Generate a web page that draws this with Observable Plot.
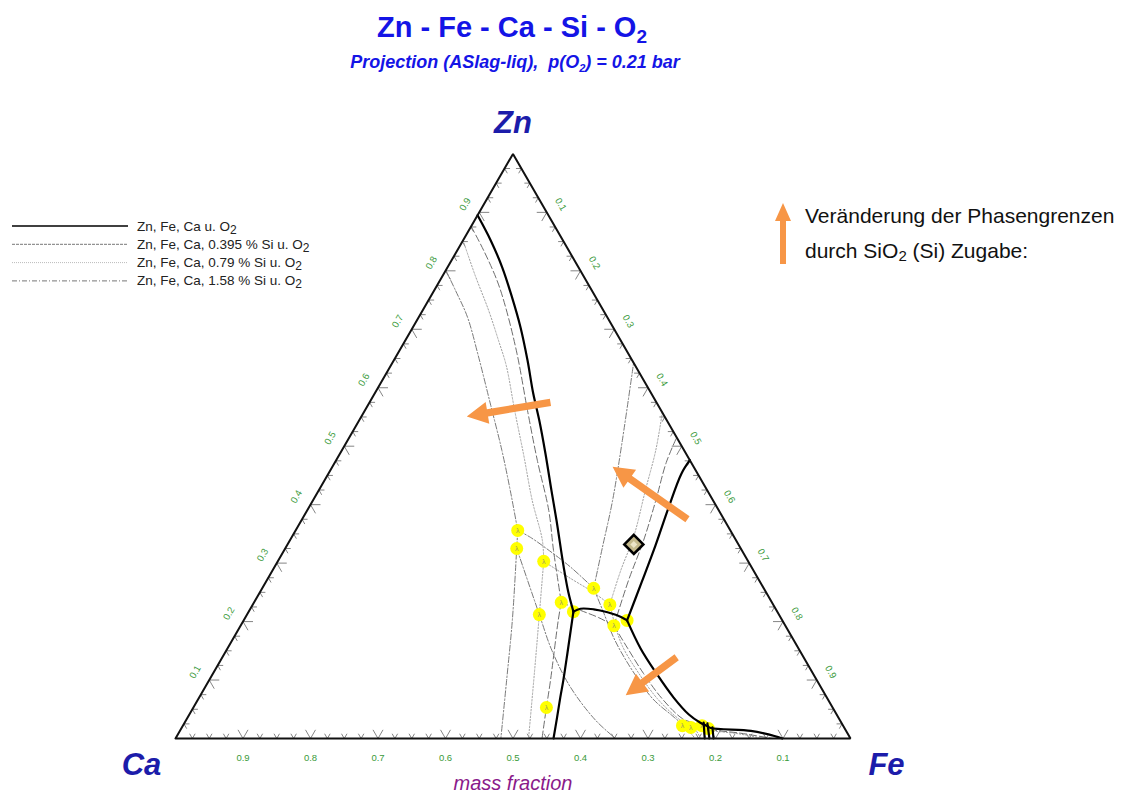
<!DOCTYPE html>
<html>
<head>
<meta charset="utf-8">
<script src="https://cdn.jsdelivr.net/npm/d3@7"></script>
<script src="https://cdn.jsdelivr.net/npm/@observablehq/plot@0.6"></script>
<style>
  body { margin: 0; background: #fff; }
  #wrap { position: relative; width: 1134px; height: 794px; font-family: "Liberation Sans", Arial, sans-serif; }
  #wrap > svg { position: absolute; left: 0; top: 0; }
</style>
</head>
<body>
<div id="wrap"></div>
<script>
// ---- Phase boundaries, as [Zn, Fe] mass fractions (Ca = 1 - Zn - Fe) ----
// Zn, Fe, Ca u. O2
const base_left     = [[0.895,0.000],[0.852,0.041],[0.806,0.081],[0.755,0.121],[0.704,0.159],[0.647,0.198],[0.590,0.235],[0.544,0.267],[0.488,0.304],[0.424,0.345],[0.373,0.378],[0.294,0.428],[0.250,0.457],[0.217,0.481]];
const base_leftLow  = [[0.217,0.481],[0.185,0.493],[0.145,0.508],[0.099,0.525],[0.070,0.535],[0.034,0.548],[0.000,0.560]];
const base_mid      = [[0.217,0.481],[0.222,0.489],[0.221,0.509],[0.216,0.532],[0.208,0.556],[0.202,0.568]];
const base_right    = [[0.202,0.568],[0.267,0.557],[0.330,0.546],[0.395,0.533],[0.453,0.523],[0.476,0.524]];
const base_lowRight = [[0.202,0.568],[0.154,0.612],[0.113,0.655],[0.070,0.703],[0.041,0.740],[0.027,0.764],[0.021,0.778]];
const base_tail     = [[0.021,0.778],[0.018,0.784],[0.013,0.846],[0.007,0.875],[0.000,0.899]];
const base_stub1    = [[0.027,0.769],[0.000,0.784]];
const base_stub2    = [[0.026,0.775],[0.000,0.791]];
const base_stub3    = [[0.019,0.786],[0.000,0.797]];

// Zn, Fe, Ca, 0.395 % Si u. O2
const si395_left     = [[0.876,0.000],[0.835,0.039],[0.783,0.085],[0.738,0.120],[0.658,0.177],[0.561,0.241],[0.476,0.298],[0.390,0.358],[0.322,0.399],[0.233,0.455]];
const si395_leftLow  = [[0.233,0.455],[0.202,0.466],[0.099,0.506],[0.053,0.523],[0.000,0.543]];
const si395_mid      = [[0.233,0.455],[0.219,0.491],[0.207,0.523],[0.193,0.553]];
const si395_right    = [[0.193,0.553],[0.270,0.536],[0.339,0.524],[0.407,0.508],[0.472,0.491],[0.515,0.485]];
const si395_lowRight = [[0.193,0.553],[0.154,0.593],[0.111,0.638],[0.068,0.687],[0.034,0.734],[0.021,0.767],[0.000,0.785]];
const si395_tail     = [[0.021,0.767],[0.015,0.788],[0.009,0.833],[0.000,0.884]];

// Zn, Fe, Ca, 0.79 % Si u. O2
const si79_left     = [[0.852,0.000],[0.792,0.048],[0.732,0.098],[0.681,0.138],[0.638,0.171],[0.561,0.222],[0.484,0.274],[0.407,0.325],[0.339,0.374],[0.303,0.394]];
const si79_leftLow  = [[0.303,0.394],[0.212,0.433],[0.116,0.474],[0.000,0.523]];
const si79_mid      = [[0.303,0.394],[0.274,0.448],[0.250,0.494],[0.229,0.529]];
const si79_right    = [[0.229,0.529],[0.287,0.516],[0.346,0.506],[0.424,0.484],[0.493,0.465],[0.556,0.443]];
const si79_lowRight = [[0.229,0.529],[0.193,0.555],[0.157,0.584],[0.113,0.629],[0.068,0.680],[0.034,0.728],[0.019,0.758],[0.000,0.778]];
const si79_tail     = [[0.019,0.758],[0.014,0.782],[0.008,0.830],[0.000,0.870]];

// Zn, Fe, Ca, 1.58 % Si u. O2
const si158_left     = [[0.801,0.000],[0.766,0.032],[0.721,0.072],[0.655,0.121],[0.570,0.182],[0.493,0.237],[0.424,0.284],[0.356,0.329]];
const si158_leftLow  = [[0.356,0.329],[0.325,0.343],[0.202,0.398],[0.099,0.441],[0.000,0.482]];
const si158_mid      = [[0.356,0.329],[0.344,0.354],[0.316,0.402],[0.293,0.439],[0.257,0.491]];
const si158_right    = [[0.257,0.491],[0.327,0.469],[0.407,0.444],[0.510,0.407],[0.641,0.358]];
const si158_lowRight = [[0.257,0.491],[0.216,0.526],[0.168,0.567],[0.116,0.619],[0.068,0.673],[0.038,0.718],[0.022,0.742],[0.000,0.770]];
const si158_branch   = [[0.325,0.343],[0.212,0.433],[0.151,0.482],[0.088,0.541],[0.031,0.607],[0.000,0.652]];

// Invariant points (junctions of boundaries)
const junctions = [[0.356,0.329],[0.325,0.343],[0.303,0.394],[0.257,0.491],[0.229,0.529],[0.233,0.455],[0.217,0.481],[0.212,0.433],[0.193,0.553],[0.202,0.568],[0.053,0.523],[0.022,0.740],[0.019,0.754],[0.022,0.769],[0.017,0.781]];

// Sample composition
const samplePoint = [[0.332,0.513]];

// Shift of the boundaries with SiO2 addition: [tail, head]
const shiftArrows = [
  [[0.575,0.268],[0.551,0.156]],
  [[0.375,0.571],[0.465,0.415]],
  [[0.139,0.673],[0.074,0.630]]
];

// Axis labels
const tickLabels = [0.1,0.2,0.3,0.4,0.5,0.6,0.7,0.8,0.9];
const vertexNames = ["Zn","Ca","Fe"];
const seriesLabels = ["Zn, Fe, Ca u. O2","Zn, Fe, Ca, 0.395 % Si u. O2","Zn, Fe, Ca, 0.79 % Si u. O2","Zn, Fe, Ca, 1.58 % Si u. O2"];
const titleText = "Zn - Fe - Ca - Si - O2";
const subtitleText = ["Projection (ASlag-liq),\u00a0 p(O", "2", ") = 0.21 bar"];
const noteLines = [["Veränderung der Phasengrenzen"], ["durch SiO", "2", " (Si) Zugabe:"]];
const axisTitle = "mass fraction";

// ---- Layout ----
const W = 1134, H = 794, ML = 175, MR = 284, MT = 153.4, MB = 56;
const PX = W - ML - MR;              // pixels per unit of the triangle side
const S3 = Math.sqrt(3) / 2;
const toXY = ([zn, fe]) => ({x: fe + zn / 2, y: zn * S3});

const styles = {
  base:  {stroke: "#000", strokeWidth: 2.2},
  si395: {stroke: "#6e6e6e", strokeWidth: 1, strokeDasharray: "7,3"},
  si79:  {stroke: "#a2a2a2", strokeWidth: 1, strokeDasharray: "1.5,1.8"},
  si158: {stroke: "#7a7a7a", strokeWidth: 1, strokeDasharray: "6,2,1.5,2"}
};
const legendStyles = [
  {stroke: "#000", strokeWidth: 1.5},
  {stroke: "#777", strokeWidth: 1, strokeDasharray: "3,1"},
  {stroke: "#bbb", strokeWidth: 1, strokeDasharray: "1,1"},
  {stroke: "#777", strokeWidth: 1, strokeDasharray: "5,2,1,2"}
];
const curveSets = [
  ["si158", [si158_left, si158_leftLow, si158_mid, si158_right, si158_lowRight, si158_branch]],
  ["si79",  [si79_left, si79_leftLow, si79_mid, si79_right, si79_lowRight, si79_tail]],
  ["si395", [si395_left, si395_leftLow, si395_mid, si395_right, si395_lowRight, si395_tail]]
];
const blackCurves = [base_left, base_leftLow, base_mid, base_right, base_lowRight, base_tail, base_stub1, base_stub2, base_stub3];

// Tick marks every 0.025 along each side, drawn along the grid directions
const tickSegs = [];
d3.range(1, 40).forEach(i => {
  const v = i / 40, len = (i % 4 === 0 ? 10 : 5.5) / PX;
  const sides = [
    {p: [v, 0],               arms: [[-0.5, S3], [0.5, S3]]},
    {p: [v / 2, v * S3],      arms: [[1, 0], [0.5, -S3]]},
    {p: [1 - v / 2, v * S3],  arms: [[-1, 0], [-0.5, -S3]]}
  ];
  for (const s of sides) for (const a of s.arms)
    tickSegs.push({x1: s.p[0], y1: s.p[1], x2: s.p[0] + a[0] * len, y2: s.p[1] + a[1] * len});
});

const leftLabels   = tickLabels.map(v => ({x: v / 2, y: v * S3, t: v.toFixed(1)}));
const rightLabels  = tickLabels.map(v => ({x: (1 + v) / 2, y: (1 - v) * S3, t: v.toFixed(1)}));
const bottomLabels = tickLabels.map(v => ({x: 1 - v, y: 0, t: v.toFixed(1)}));

const triangle = [[0,0],[0,1],[1,0],[0,0]].map(toXY);
const vertices = [[1,0],[0,0],[0,1]].map(toXY).map((d, i) => ({...d, t: vertexNames[i]}));
const vertexOffsets = [[0, -31], [-34, 27], [36, 27]];

const diamond = {draw(ctx, size) { const r = Math.sqrt(size / Math.PI); ctx.moveTo(0, -r); ctx.lineTo(r, 0); ctx.lineTo(0, r); ctx.lineTo(-r, 0); ctx.closePath(); }};
const arrowShape = {draw(ctx, l) {
  const w = 3.6, hw = 11, hl = 21, b = -(l - hl);
  ctx.moveTo(-w, 0); ctx.lineTo(-w, b); ctx.lineTo(-hw, b); ctx.lineTo(0, -l);
  ctx.lineTo(hw, b); ctx.lineTo(w, b); ctx.lineTo(w, 0); ctx.closePath();
}};
const arrowMarks = shiftArrows.map(([a, b]) => {
  const p = toXY(a), q = toXY(b), dx = q.x - p.x, dy = q.y - p.y;
  return Plot.vector([p], {x: "x", y: "y", anchor: "start", shape: arrowShape,
    length: Math.hypot(dx, dy) * PX, rotate: Math.atan2(dx, dy) * 180 / Math.PI,
    fill: "#f79646", stroke: "none"});
});

const line = (pts, st) => Plot.line(pts.map(toXY), {x: "x", y: "y", curve: "catmull-rom", ...st});
const green = "#3a9a3a", vColor = "#1c1caa";

const chart = Plot.plot({
  width: W, height: H,
  marginLeft: ML, marginRight: MR, marginTop: MT, marginBottom: MB,
  x: {domain: [0, 1], axis: null},
  y: {domain: [0, S3], axis: null},
  style: {fontFamily: "Liberation Sans, Arial, sans-serif", background: "transparent", overflow: "visible"},
  marks: [
    Plot.link(tickSegs, {x1: "x1", y1: "y1", x2: "x2", y2: "y2", stroke: "#666", strokeWidth: 0.8}),
    ...curveSets.flatMap(([k, cs]) => cs.map(c => line(c, styles[k]))),
    Plot.dot(junctions.map(toXY), {x: "x", y: "y", r: 6.5, fill: "#ffff00"}),
    Plot.text(junctions.map(toXY), {x: "x", y: "y", text: () => "λ", fontSize: 7, fill: "#9a9a60"}),
    ...blackCurves.map(c => line(c, styles.base)),
    Plot.line(triangle, {x: "x", y: "y", stroke: "#111", strokeWidth: 2, strokeLinejoin: "miter"}),
    Plot.dot(samplePoint.map(toXY), {x: "x", y: "y", symbol: diamond, r: 9.5, fill: "#c4b98c", stroke: "#000", strokeWidth: 2.6}),
    Plot.dot(samplePoint.map(toXY), {x: "x", y: "y", symbol: diamond, r: 3.5, fill: "#ece5c8"}),
    ...arrowMarks,
    Plot.text(leftLabels, {x: "x", y: "y", text: "t", dx: -14, dy: -8, rotate: -60, fontSize: 9.5, fill: green}),
    Plot.text(rightLabels, {x: "x", y: "y", text: "t", dx: 14, dy: -8, rotate: 60, fontSize: 9.5, fill: green}),
    Plot.text(bottomLabels, {x: "x", y: "y", text: "t", dy: 19, fontSize: 9.5, fill: green}),
    ...vertices.map((v, i) => Plot.text([v], {x: "x", y: "y", text: "t",
      dx: vertexOffsets[i][0], dy: vertexOffsets[i][1],
      fontSize: 31, fontWeight: "bold", fontStyle: "italic", fill: vColor})),
    Plot.text([{x: 0.5, y: 0}], {x: "x", y: "y", text: () => axisTitle, dy: 45, fontSize: 20, fontStyle: "italic", fill: "#8a1a8a"})
  ]
});
document.getElementById("wrap").appendChild(chart);

// ---- Title, subtitle, legend and note ----
const ov = d3.select("#wrap").append("svg").attr("width", W).attr("height", H)
  .attr("font-family", "Liberation Sans, Arial, sans-serif").style("pointer-events", "none");

const t = ov.append("text").attr("x", 512).attr("y", 37).attr("text-anchor", "middle")
  .attr("font-size", 29).attr("font-weight", "bold").attr("fill", "#1414e6");
t.append("tspan").text(titleText.slice(0, -1));
t.append("tspan").attr("font-size", 19).attr("dy", 6).text(titleText.slice(-1));

const st = ov.append("text").attr("x", 515).attr("y", 68).attr("text-anchor", "middle")
  .attr("font-size", 18).attr("font-weight", "bold").attr("font-style", "italic").attr("fill", "#1414e6");
st.append("tspan").text(subtitleText[0]);
st.append("tspan").attr("font-size", 11).attr("dy", 4).text(subtitleText[1]);
st.append("tspan").attr("dy", -4).text(subtitleText[2]);

seriesLabels.forEach((lab, i) => {
  const y = 226 + i * 18.3, s = legendStyles[i];
  ov.append("line").attr("x1", 12).attr("x2", 128).attr("y1", y).attr("y2", y)
    .attr("stroke", s.stroke).attr("stroke-width", s.strokeWidth).attr("stroke-dasharray", s.strokeDasharray || null);
  const tx = ov.append("text").attr("x", 137).attr("y", y + 4.5).attr("font-size", 13.5).attr("fill", "#222");
  tx.append("tspan").text(lab.slice(0, -1));
  tx.append("tspan").attr("font-size", 12).attr("dy", 3).text(lab.slice(-1));
});

// note arrow
ov.append("path").attr("fill", "#f79646")
  .attr("d", "M780,264 L780,221 L775,221 L783,203 L791,221 L786,221 L786,264 Z");
noteLines.forEach((parts, i) => {
  const tx = ov.append("text").attr("x", 805).attr("y", 223 + i * 35).attr("font-size", 21).attr("fill", "#111");
  tx.append("tspan").text(parts[0]);
  if (parts.length > 1) {
    tx.append("tspan").attr("font-size", 15).attr("dy", 3).text(parts[1]);
    tx.append("tspan").attr("dy", -3).text(parts[2]);
  }
});
</script>
</body>
</html>
